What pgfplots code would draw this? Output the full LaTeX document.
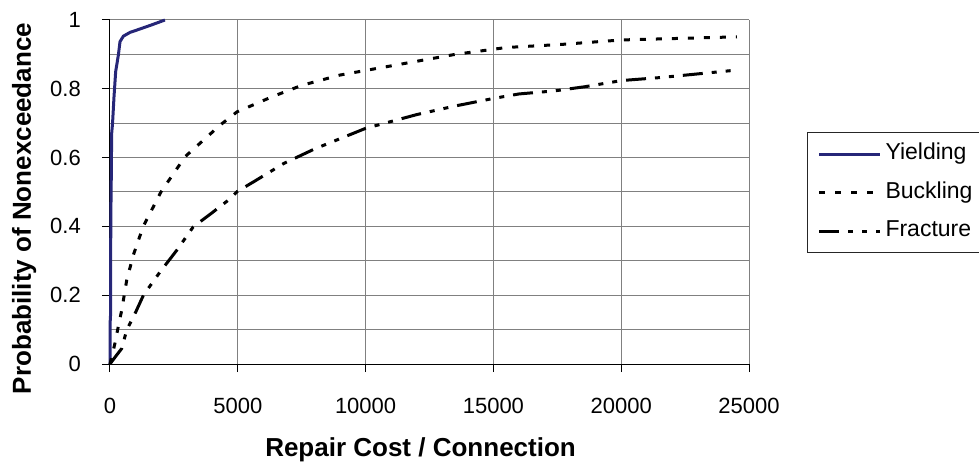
\documentclass[border=0pt]{standalone}
\usepackage{fontspec}
\setmainfont{Liberation Sans}
\usepackage{pgfplots}
\pgfplotsset{compat=1.18}
\definecolor{navyline}{RGB}{38,38,120}
\definecolor{gridgray}{RGB}{128,128,128}
\begin{document}
\begin{tikzpicture}
\useasboundingbox (-110bp,-102bp) rectangle (869bp,364bp);
\begin{axis}[
  at={(0,0)}, anchor=south west,
  scale only axis, width=639bp, height=344bp,
  xmin=0, xmax=25000, ymin=0, ymax=1,
  clip=false,
  axis x line*=bottom, axis y line*=left,
  axis line style={black, line width=1bp, -},
  xtick={0,5000,10000,15000,20000,25000},
  xticklabels={0,5000,10000,15000,20000,25000},
  ytick={0,0.2,0.4,0.6,0.8,1},
  yticklabels={0,0.2,0.4,0.6,0.8,1},
  scaled x ticks=false,
  minor y tick num=1,
  tick align=outside,
  major tick length=8bp, minor tick length=0pt,
  tick style={black, line width=1bp},
  xmajorgrids, ymajorgrids, yminorgrids,
  major grid style={gridgray, line width=1bp},
  minor grid style={gridgray, line width=1bp},
  /pgf/number format/assume math mode=true,
  ticklabel style={font=\fontsize{22bp}{26bp}\selectfont, inner sep=0pt},
  xticklabel style={anchor=north, yshift=-26bp},
  yticklabel style={anchor=east, xshift=-21bp},
  xlabel={Repair Cost / Connection},
  ylabel={Probability of Nonexceedance},
  label style={font=\fontsize{26bp}{30bp}\selectfont\bfseries, inner sep=0pt},
  xlabel style={at={(axis description cs:0.486,0)}, anchor=base, yshift=-92bp},
  ylabel style={at={(axis description cs:0,0.452)}, anchor=base, yshift=79bp},
  legend cell align=left,
  legend image code/.code={\draw[#1] (0bp,0bp) -- (61bp,0bp);},
  legend style={at={(axis description cs:1.0908,0.6744)}, anchor=north west,
    draw=black!85, line width=1bp, fill=white,
    inner xsep=10bp, inner ysep=10bp, row sep=15.5bp,
    /tikz/every odd column/.style={column sep=4bp},
    nodes={inner sep=0pt, text height=17bp, text depth=6bp, font=\fontsize{23bp}{27bp}\selectfont}},
]
\addplot[navyline, line width=3bp] coordinates {
(0,0) (5,0.12) (20,0.14) (25,0.3) (35,0.45) (45,0.5) (65,0.67) (100,0.7) (157,0.777)
(222,0.85) (327,0.898) (392,0.937) (523,0.953) (785,0.964) (1177,0.974) (1600,0.985) (2150,1.0)
};
\addlegendentry{Yielding}
\addplot[black, line width=3bp, dash pattern=on 6bp off 10bp] coordinates {
(0,0) (100,0.03) (196,0.061) (300,0.1) (460,0.157) (655,0.244) (915,0.317) (1300,0.4)
(2000,0.501) (2943,0.603) (4317,0.695) (4970,0.733) (6346,0.777) (7500,0.81) (9000,0.84)
(10500,0.86) (12000,0.88) (13500,0.9) (15500,0.92) (17661,0.929) (20016,0.942) (24529,0.951)
};
\addlegendentry{Buckling}
\addplot[black, line width=3bp, dash pattern=on 20bp off 9bp on 5bp off 9bp on 5bp off 9bp] coordinates {
(0,0) (200,0.02) (458,0.045) (655,0.099) (1000,0.15) (1308,0.2) (1962,0.268) (2616,0.331)
(3250,0.398) (4000,0.44) (4643,0.477) (4970,0.501) (5626,0.53) (6800,0.583) (8000,0.625)
(9000,0.655) (10000,0.685) (11000,0.705) (12000,0.725) (13500,0.75) (15000,0.772)
(16000,0.785) (17399,0.794) (18576,0.806) (20016,0.824) (21586,0.833) (24595,0.855)
};
\addlegendentry{Fracture}
\end{axis}
\end{tikzpicture}
\end{document}
